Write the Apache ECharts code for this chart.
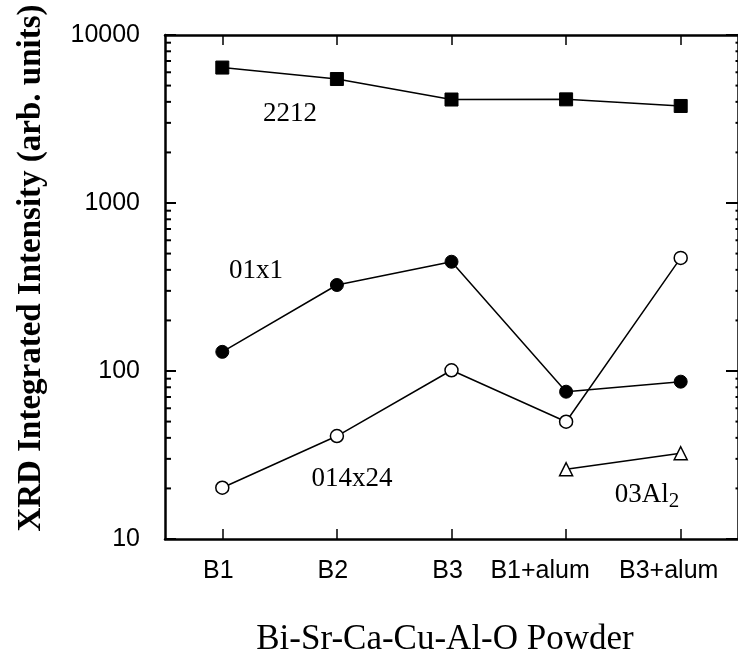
<!DOCTYPE html>
<html><head><meta charset="utf-8">
<script src="https://cdn.jsdelivr.net/npm/echarts@6/dist/echarts.min.js"></script>
<style>html,body{margin:0;padding:0;background:#fff}#c{width:738px;height:662px}</style>
</head><body><div id="c"></div>
<script>
const categories = ['B1', 'B2', 'B3', 'B1+alum', 'B3+alum'];
const s2212 = [6400, 5470, 4130, 4140, 3780];
const s01x1 = [130, 325, 447, 75.3, 86.4];
const s014x24 = [20.2, 41.0, 101, 49.9, 471];
const s03Al2 = [null, null, null, 26.0, 32.4];
const yTicks = [10, 100, 1000, 10000];
const minorTickValues = [];
for (let d = 10; d < 10000; d *= 10) for (let k = 2; k <= 9; k++) minorTickValues.push(k * d);

// horizontal shift of each category label (layout only)
const labelShift = {'B1': -4, 'B2': -4, 'B3': -4, 'B1+alum': -26, 'B3+alum': -12};

const chart = echarts.init(document.getElementById('c'));
const sans = 'Liberation Sans';
const serif = 'Liberation Serif';
const axisLine = {show: true, lineStyle: {color: '#000', width: 2.5}};
const gridLeft = 165, gridRightMargin = -4.5;
const gridRightX = 738 - gridRightMargin;

const rich = {};
categories.forEach((c, i) => {
  const s = labelShift[c];
  rich['l' + i] = {fontFamily: sans, fontSize: 25, color: '#000',
    padding: s < 0 ? [0, -2 * s, 0, 0] : [0, 0, 0, 2 * s]};
});

const textGraphics = [
  {type: 'text', style: {text: 'XRD Integrated Intensity (arb. units)', font: 'bold 33px "Liberation Serif"', fill: '#000', textAlign: 'center', textVerticalAlign: 'middle'},
   rotation: Math.PI / 2, x: 31, y: 268},
  {type: 'text', style: {text: 'Bi-Sr-Ca-Cu-Al-O Powder', font: '35px "Liberation Serif"', fill: '#000', textAlign: 'center', textVerticalAlign: 'middle'},
   x: 445, y: 640},
  {type: 'text', style: {text: '2212', font: '27px "Liberation Serif"', fill: '#000', textAlign: 'center', textVerticalAlign: 'middle'}, x: 290, y: 114},
  {type: 'text', style: {text: '01x1', font: '27px "Liberation Serif"', fill: '#000', textAlign: 'center', textVerticalAlign: 'middle'}, x: 256, y: 271},
  {type: 'text', style: {text: '014x24', font: '27px "Liberation Serif"', fill: '#000', textAlign: 'center', textVerticalAlign: 'middle'}, x: 352, y: 479},
  {type: 'text', style: {text: '{a|03Al}{s|2}', rich: {a: {fontFamily: serif, fontSize: 27, color: '#000'}, s: {fontFamily: serif, fontSize: 21, color: '#000', padding: [12, 0, 0, 0]}}, fill: '#000', textAlign: 'center', textVerticalAlign: 'middle'}, x: 647, y: 495}
];

chart.setOption({
  animation: false,
  backgroundColor: '#fff',
  grid: {left: gridLeft, right: gridRightMargin, top: 35, bottom: 123},
  xAxis: [
    {type: 'category', data: categories, boundaryGap: true, position: 'bottom',
     axisLine: axisLine, axisTick: {show: true, inside: true, alignWithLabel: true, length: 10, lineStyle: {color: '#000', width: 1.5}},
     axisLabel: {interval: 0, fontFamily: sans, fontSize: 25, color: '#000', margin: 20,
       formatter: (v, i) => '{l' + i + '|' + v + '}', rich: rich}, splitLine: {show: false}},
    {type: 'category', data: categories, boundaryGap: true, position: 'top',
     axisLine: axisLine, axisTick: {show: true, inside: true, alignWithLabel: true, interval: 0, length: 10, lineStyle: {color: '#000', width: 1.5}},
     axisLabel: {show: false}, splitLine: {show: false}}
  ],
  yAxis: [
    {type: 'log', logBase: 10, min: 10, max: 10000, position: 'left',
     axisLine: axisLine, axisTick: {show: true, inside: true, length: 11, lineStyle: {color: '#000', width: 2}},
     axisLabel: {fontFamily: sans, fontSize: 25, color: '#000', margin: 25,
       formatter: v => yTicks.includes(Math.round(v)) ? String(Math.round(v)) : ''}, splitLine: {show: false}},
    {type: 'log', logBase: 10, min: 10, max: 10000, position: 'right',
     axisLine: axisLine, axisTick: {show: true, inside: true, length: 12, lineStyle: {color: '#000', width: 2}},
     axisLabel: {show: false}, splitLine: {show: false}}
  ],
  series: [
    {type: 'line', data: s2212, symbol: 'rect', symbolSize: 13,
     itemStyle: {color: '#000', borderColor: '#000', borderWidth: 1},
     lineStyle: {color: '#000', width: 1.5}, z: 3},
    {type: 'line', data: s01x1, symbol: 'circle', symbolSize: 13,
     itemStyle: {color: '#000', borderColor: '#000', borderWidth: 1},
     lineStyle: {color: '#000', width: 1.5}, z: 3},
    {type: 'line', data: s014x24, symbol: 'circle', symbolSize: 13,
     itemStyle: {color: '#fff', borderColor: '#000', borderWidth: 1.5},
     lineStyle: {color: '#000', width: 1.5}, z: 3},
    {type: 'line', data: s03Al2, symbol: 'triangle', symbolSize: 13, connectNulls: false,
     itemStyle: {color: '#fff', borderColor: '#000', borderWidth: 1.5},
     lineStyle: {color: '#000', width: 1.5}, z: 3}
  ]
});

// minor log ticks on left and right axes, placed through the y axis scale
const minorGraphics = [];
minorTickValues.forEach(v => {
  const y = chart.convertToPixel({yAxisIndex: 0}, v);
  minorGraphics.push({type: 'line', shape: {x1: gridLeft, y1: y, x2: gridLeft + 6, y2: y}, style: {stroke: '#000', lineWidth: 2}});
  minorGraphics.push({type: 'line', shape: {x1: gridRightX - 7, y1: y, x2: gridRightX, y2: y}, style: {stroke: '#000', lineWidth: 2}});
});
chart.setOption({graphic: textGraphics.concat(minorGraphics)});
</script></body></html>
